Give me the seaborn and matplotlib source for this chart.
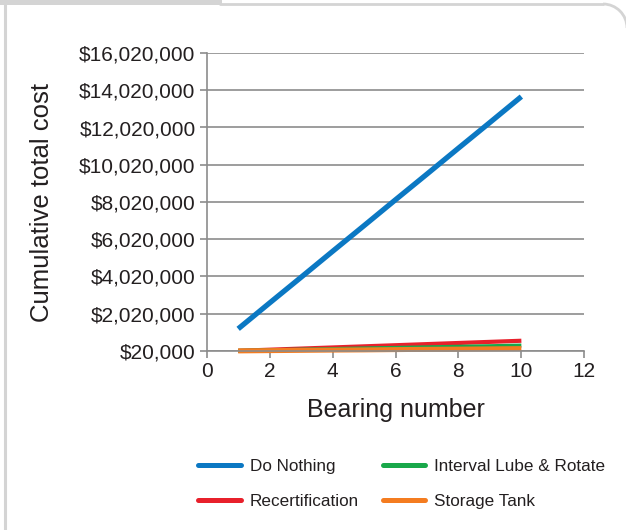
import numpy as np
import pandas as pd
import seaborn as sns
import matplotlib.pyplot as plt
from matplotlib.ticker import FuncFormatter
from matplotlib.patches import Arc, Rectangle
from matplotlib.lines import Line2D

bearing = [1, 2, 3, 4, 5, 6, 7, 8, 9, 10]
do_nothing = [1210000, 2600000, 3980000, 5370000, 6750000,
              8140000, 9520000, 10910000, 12290000, 13680000]
interval_lube = [30000, 60000, 90000, 120000, 155000,
                 185000, 215000, 245000, 275000, 310000]
recertification = [30000, 90000, 150000, 210000, 270000,
                   330000, 390000, 450000, 510000, 570000]
storage_tank = [25000, 40000, 55000, 70000, 80000,
                95000, 110000, 120000, 135000, 150000]

series = {
    "Do Nothing": do_nothing,
    "Interval Lube & Rotate": interval_lube,
    "Recertification": recertification,
    "Storage Tank": storage_tank,
}
df = pd.DataFrame([
    {"Bearing number": b, "Cost": v, "Series": name}
    for name, vals in series.items() for b, v in zip(bearing, vals)
])

pal = {
    "Do Nothing": "#0b78c3",
    "Interval Lube & Rotate": "#19a84a",
    "Recertification": "#e8202b",
    "Storage Tank": "#f47c20",
}
widths = {"Do Nothing": 3.8, "Interval Lube & Rotate": 3.0,
          "Recertification": 3.0, "Storage Tank": 3.6}

sns.set_theme(style="white")
plt.rcParams["font.family"] = ["Liberation Sans", "DejaVu Sans"]
text_col = "#231f20"
grid_col = "#8c8c8c"

fig = plt.figure(figsize=(6.26, 5.30), dpi=100)
ax = fig.add_axes([206.7 / 626, 1 - 351 / 530, (584.3 - 206.7) / 626, (351 - 53) / 530])

draw_order = ["Do Nothing", "Recertification", "Interval Lube & Rotate", "Storage Tank"]
for name in draw_order:
    sns.lineplot(data=df[df["Series"] == name], x="Bearing number", y="Cost",
                 color=pal[name], linewidth=widths[name], ax=ax,
                 clip_on=False, solid_capstyle="butt")

ax.set_xlim(0, 12)
ax.set_ylim(20000, 16020000)
ax.set_xticks(range(0, 13, 2))
ax.set_yticks(np.arange(20000, 16020001, 2000000))
ax.yaxis.set_major_formatter(FuncFormatter(lambda v, p: "${:,.0f}".format(v)))
ax.grid(axis="y", color=grid_col, linewidth=1.2)
ax.set_axisbelow(True)
for s in ["top", "right"]:
    ax.spines[s].set_visible(False)
for s in ["left", "bottom"]:
    ax.spines[s].set_color(grid_col)
    ax.spines[s].set_linewidth(1.2)
ax.tick_params(axis="both", direction="out", length=5, width=1.2, color=grid_col,
               labelsize=15, labelcolor=text_col, pad=3, left=True, bottom=True)
ax.set_xlabel("Bearing number", fontsize=18, color=text_col, labelpad=12)
ax.set_ylabel("Cumulative total cost", fontsize=18.5, color=text_col, labelpad=18)

legend_order = ["Do Nothing", "Recertification", "Interval Lube & Rotate", "Storage Tank"]
handles = [Line2D([], [], color=pal[n], linewidth=3.6, solid_capstyle="round")
           for n in legend_order]
fig.legend(handles, legend_order, ncol=2, loc="center left",
           bbox_to_anchor=(183 / 626, 1 - 484 / 530), frameon=False,
           fontsize=12.3, handlelength=2.5, handletextpad=0.5,
           columnspacing=1.4, labelspacing=1.2, labelcolor=text_col)

# frame decorations, in inches so the corner stays circular
frame_col = "#d4d4d4"
tr = fig.dpi_scale_trans
fig.lines.append(Line2D([2.2, 6.03], [5.26, 5.26], transform=tr,
                        color=frame_col, linewidth=2.0))
fig.patches.append(Arc((6.03, 5.02), 0.48, 0.48, theta1=0, theta2=90,
                       transform=tr, color=frame_col, linewidth=2.0))
fig.lines.append(Line2D([0.05, 0.05], [0, 5.30], transform=tr,
                        color=frame_col, linewidth=2.2))
fig.patches.append(Rectangle((0, 5.25), 2.22, 0.05, transform=tr,
                             facecolor=frame_col, edgecolor="none"))

fig.savefig("out.png", dpi=100)
